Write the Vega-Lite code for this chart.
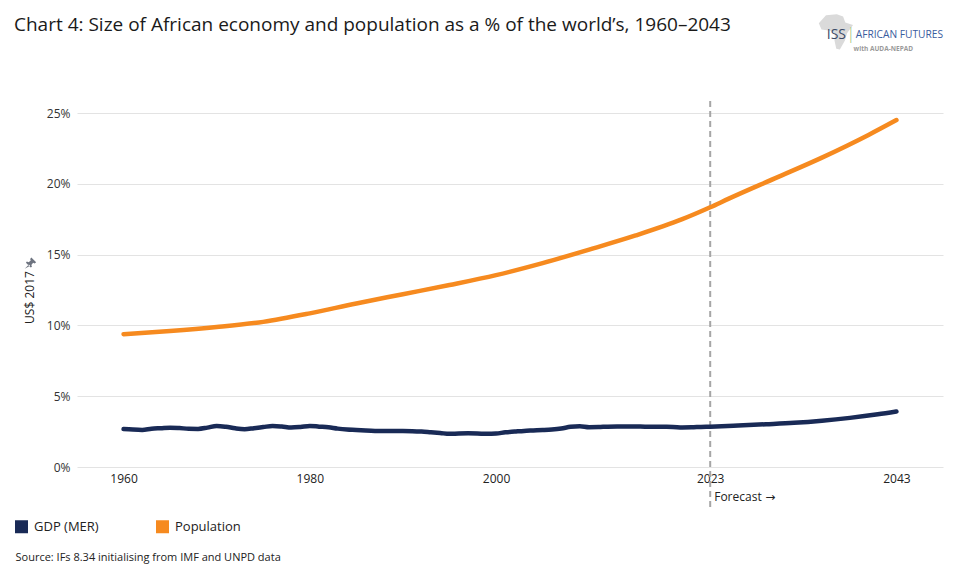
{
  "$schema": "https://vega.github.io/schema/vega-lite/v6.json",
  "width": 866,
  "height": 354,
  "autosize": {"type": "none"},
  "padding": {"left": 77, "top": 113, "right": 12, "bottom": 117},
  "background": "white",
  "config": {
    "view": {"stroke": null},
    "font": "Open Sans",
    "axis": {"labelFont": "Open Sans", "titleFont": "Open Sans"},
    "legend": {"labelFont": "Open Sans"}
  },
  "title": {
    "text": "Chart 4: Size of African economy and population as a % of the world’s, 1960–2043",
    "anchor": "start",
    "frame": "group",
    "font": "Open Sans",
    "fontSize": 19,
    "fontWeight": "normal",
    "color": "#1a1a1a",
    "dx": -63,
    "offset": -21
  },
  "datasets": {
    "series": [
      {"year": 1960, "series": "GDP (MER)", "value": 2.68},
      {"year": 1961, "series": "GDP (MER)", "value": 2.64},
      {"year": 1962, "series": "GDP (MER)", "value": 2.62},
      {"year": 1963, "series": "GDP (MER)", "value": 2.7},
      {"year": 1964, "series": "GDP (MER)", "value": 2.74},
      {"year": 1965, "series": "GDP (MER)", "value": 2.78},
      {"year": 1966, "series": "GDP (MER)", "value": 2.75},
      {"year": 1967, "series": "GDP (MER)", "value": 2.7},
      {"year": 1968, "series": "GDP (MER)", "value": 2.69},
      {"year": 1969, "series": "GDP (MER)", "value": 2.78},
      {"year": 1970, "series": "GDP (MER)", "value": 2.9},
      {"year": 1971, "series": "GDP (MER)", "value": 2.84},
      {"year": 1972, "series": "GDP (MER)", "value": 2.73},
      {"year": 1973, "series": "GDP (MER)", "value": 2.67},
      {"year": 1974, "series": "GDP (MER)", "value": 2.74},
      {"year": 1975, "series": "GDP (MER)", "value": 2.82},
      {"year": 1976, "series": "GDP (MER)", "value": 2.9},
      {"year": 1977, "series": "GDP (MER)", "value": 2.86},
      {"year": 1978, "series": "GDP (MER)", "value": 2.79},
      {"year": 1979, "series": "GDP (MER)", "value": 2.83},
      {"year": 1980, "series": "GDP (MER)", "value": 2.9},
      {"year": 1981, "series": "GDP (MER)", "value": 2.85},
      {"year": 1982, "series": "GDP (MER)", "value": 2.8},
      {"year": 1983, "series": "GDP (MER)", "value": 2.71},
      {"year": 1984, "series": "GDP (MER)", "value": 2.65},
      {"year": 1985, "series": "GDP (MER)", "value": 2.62},
      {"year": 1986, "series": "GDP (MER)", "value": 2.58},
      {"year": 1987, "series": "GDP (MER)", "value": 2.55},
      {"year": 1988, "series": "GDP (MER)", "value": 2.54},
      {"year": 1989, "series": "GDP (MER)", "value": 2.54},
      {"year": 1990, "series": "GDP (MER)", "value": 2.54},
      {"year": 1991, "series": "GDP (MER)", "value": 2.53},
      {"year": 1992, "series": "GDP (MER)", "value": 2.5},
      {"year": 1993, "series": "GDP (MER)", "value": 2.45},
      {"year": 1994, "series": "GDP (MER)", "value": 2.4},
      {"year": 1995, "series": "GDP (MER)", "value": 2.34},
      {"year": 1996, "series": "GDP (MER)", "value": 2.37},
      {"year": 1997, "series": "GDP (MER)", "value": 2.38},
      {"year": 1998, "series": "GDP (MER)", "value": 2.37},
      {"year": 1999, "series": "GDP (MER)", "value": 2.34},
      {"year": 2000, "series": "GDP (MER)", "value": 2.36},
      {"year": 2001, "series": "GDP (MER)", "value": 2.45},
      {"year": 2002, "series": "GDP (MER)", "value": 2.5},
      {"year": 2003, "series": "GDP (MER)", "value": 2.55},
      {"year": 2004, "series": "GDP (MER)", "value": 2.58},
      {"year": 2005, "series": "GDP (MER)", "value": 2.61},
      {"year": 2006, "series": "GDP (MER)", "value": 2.65},
      {"year": 2007, "series": "GDP (MER)", "value": 2.72},
      {"year": 2008, "series": "GDP (MER)", "value": 2.84},
      {"year": 2009, "series": "GDP (MER)", "value": 2.88},
      {"year": 2010, "series": "GDP (MER)", "value": 2.81},
      {"year": 2011, "series": "GDP (MER)", "value": 2.82},
      {"year": 2012, "series": "GDP (MER)", "value": 2.85},
      {"year": 2013, "series": "GDP (MER)", "value": 2.86},
      {"year": 2014, "series": "GDP (MER)", "value": 2.86},
      {"year": 2015, "series": "GDP (MER)", "value": 2.86},
      {"year": 2016, "series": "GDP (MER)", "value": 2.85},
      {"year": 2017, "series": "GDP (MER)", "value": 2.85},
      {"year": 2018, "series": "GDP (MER)", "value": 2.84},
      {"year": 2019, "series": "GDP (MER)", "value": 2.83},
      {"year": 2020, "series": "GDP (MER)", "value": 2.79},
      {"year": 2021, "series": "GDP (MER)", "value": 2.8},
      {"year": 2022, "series": "GDP (MER)", "value": 2.83},
      {"year": 2023, "series": "GDP (MER)", "value": 2.85},
      {"year": 2026, "series": "GDP (MER)", "value": 2.93},
      {"year": 2029, "series": "GDP (MER)", "value": 3.02},
      {"year": 2032, "series": "GDP (MER)", "value": 3.12},
      {"year": 2035, "series": "GDP (MER)", "value": 3.27},
      {"year": 2038, "series": "GDP (MER)", "value": 3.47},
      {"year": 2041, "series": "GDP (MER)", "value": 3.72},
      {"year": 2043, "series": "GDP (MER)", "value": 3.92},
      {"year": 1960, "series": "Population", "value": 9.38},
      {"year": 1965, "series": "Population", "value": 9.6},
      {"year": 1970, "series": "Population", "value": 9.88},
      {"year": 1975, "series": "Population", "value": 10.25},
      {"year": 1980, "series": "Population", "value": 10.85},
      {"year": 1985, "series": "Population", "value": 11.55},
      {"year": 1990, "series": "Population", "value": 12.2},
      {"year": 1995, "series": "Population", "value": 12.85},
      {"year": 2000, "series": "Population", "value": 13.55},
      {"year": 2005, "series": "Population", "value": 14.4},
      {"year": 2010, "series": "Population", "value": 15.35},
      {"year": 2015, "series": "Population", "value": 16.35},
      {"year": 2020, "series": "Population", "value": 17.5},
      {"year": 2023, "series": "Population", "value": 18.34},
      {"year": 2025, "series": "Population", "value": 18.95},
      {"year": 2030, "series": "Population", "value": 20.4},
      {"year": 2035, "series": "Population", "value": 21.85},
      {"year": 2040, "series": "Population", "value": 23.45},
      {"year": 2043, "series": "Population", "value": 24.5}
    ],
    "forecast": [
      {"year": 2023, "lo": -2.82, "hi": 26.13, "label": "Forecast", "arrow": "→"}
    ],
    "logo": [
      {"part": "map", "text": ""},
      {"part": "pin", "text": ""},
      {"part": "ISS", "text": "ISS"},
      {"part": "bar", "text": "|"},
      {"part": "AF", "text": "AFRICAN FUTURES"},
      {"part": "with", "text": "with AUDA-NEPAD"}
    ]
  },
  "layer": [
    {
      "data": {"name": "forecast"},
      "mark": {"type": "rule", "color": "#a6a6a6", "strokeWidth": 2, "strokeDash": [6, 4], "clip": false},
      "encoding": {
        "x": {"field": "year", "type": "quantitative"},
        "y": {"field": "lo", "type": "quantitative", "title": "US$ 2017"},
        "y2": {"field": "hi"}
      }
    },
    {
      "data": {"name": "series"},
      "mark": {"type": "line", "strokeWidth": 4.5, "strokeCap": "round", "interpolate": "monotone"},
      "encoding": {
        "x": {
          "field": "year",
          "type": "quantitative",
          "scale": {"domain": [1955, 2048], "nice": false, "zero": false},
          "axis": {
            "values": [1960, 1980, 2000, 2023, 2043],
            "format": "d",
            "grid": false,
            "domain": false,
            "ticks": false,
            "labelFontSize": 12,
            "labelColor": "#222222",
            "labelPadding": 6,
            "title": "Source: IFs 8.34 initialising from IMF and UNPD data",
            "titleFontSize": 11,
            "titleFontWeight": "normal",
            "titleColor": "#222222",
            "titleAlign": "left",
            "titleAnchor": null,
            "titleBaseline": "alphabetic",
            "titleX": -62,
            "titleY": 93
          }
        },
        "y": {
          "field": "value",
          "type": "quantitative",
          "title": "US$ 2017",
          "scale": {"domain": [0, 25], "nice": false},
          "axis": {
            "values": [0, 5, 10, 15, 20, 25],
            "labelExpr": "datum.value + '%'",
            "grid": true,
            "gridColor": "#e3e3e3",
            "gridWidth": 1,
            "domain": false,
            "ticks": false,
            "labelFontSize": 12,
            "labelColor": "#333333",
            "labelPadding": 7,
            "titleFontSize": 12,
            "titleFontWeight": "normal",
            "titleColor": "#222222",
            "titlePadding": 10,
            "titleY": 184
          }
        },
        "color": {
          "field": "series",
          "type": "nominal",
          "scale": {"domain": ["GDP (MER)", "Population"], "range": ["#192a56", "#f68a1f"]},
          "legend": {
            "title": null,
            "orient": "none",
            "direction": "horizontal",
            "legendX": -62,
            "legendY": 407,
            "symbolType": "square",
            "symbolSize": 169,
            "symbolOpacity": 1,
            "labelFontSize": 13,
            "labelColor": "#222222",
            "labelOffset": 6,
            "columnPadding": 57,
            "encode": {
              "symbols": {
                "update": {
                  "fill": {"scale": "color", "field": "value"},
                  "fillOpacity": {"value": 1},
                  "strokeWidth": {"value": 0}
                }
              }
            }
          }
        }
      }
    },
    {
      "data": {"name": "forecast"},
      "mark": {"type": "text", "align": "left", "baseline": "middle", "dx": 4, "fontSize": 12, "color": "#222222", "clip": false},
      "encoding": {
        "x": {"field": "year", "type": "quantitative"},
        "y": {"datum": -2.12},
        "text": {"field": "label"}
      }
    },
    {
      "data": {"name": "forecast"},
      "mark": {"type": "text", "align": "left", "baseline": "middle", "dx": 55, "fontSize": 12, "font": "DejaVu Sans", "color": "#222222", "clip": false},
      "encoding": {
        "x": {"field": "year", "type": "quantitative"},
        "y": {"datum": -2.12},
        "text": {"field": "arrow"}
      }
    },
    {
      "data": {"name": "logo"},
      "transform": [{"filter": "datum.part === 'pin'"}],
      "mark": {
        "type": "point",
        "filled": true,
        "color": "#6e7480",
        "opacity": 1,
        "size": 144,
        "clip": false,
        "shape": "M 0.15 -0.95 L 0.95 -0.15 L 0.7 0.05 L 0.45 -0.05 L 0.15 0.3 L 0.25 0.6 L 0.05 0.75 L -0.75 -0.05 L -0.6 -0.25 L -0.3 -0.15 L 0.05 -0.45 L -0.05 -0.7 Z M -0.25 0.25 L -0.95 0.95 L -0.05 0.45 Z"
      },
      "encoding": {
        "x": {"datum": 1950},
        "y": {"datum": 14.4}
      }
    },
    {
      "data": {"name": "logo"},
      "transform": [{"filter": "datum.part === 'map'"}],
      "mark": {
        "type": "point",
        "filled": true,
        "color": "#dadada",
        "opacity": 1,
        "size": 1296,
        "shape": "M -0.55 -0.95 L 0.05 -1 L 0.4 -0.88 L 0.52 -0.55 L 0.95 -0.4 L 0.62 0.05 L 0.5 0.45 L 0.22 0.95 L 0.02 0.92 L -0.08 0.45 L -0.05 0.05 L -0.3 -0.08 L -0.8 -0.15 L -0.95 -0.5 Z"
      },
      "encoding": {
        "x": {"datum": 2036.5},
        "y": {"datum": 30.7}
      }
    },
    {
      "data": {"name": "logo"},
      "transform": [{"filter": "datum.part === 'ISS'"}],
      "mark": {"type": "text", "align": "right", "baseline": "middle", "fontSize": 14, "color": "#3b4a68", "dx": -2},
      "encoding": {
        "x": {"datum": 2037.8},
        "y": {"datum": 30.5},
        "text": {"field": "text"}
      }
    },
    {
      "data": {"name": "logo"},
      "transform": [{"filter": "datum.part === 'bar'"}],
      "mark": {"type": "text", "align": "center", "baseline": "middle", "fontSize": 17, "fontWeight": 300, "color": "#9cc47c"},
      "encoding": {
        "x": {"datum": 2038.1},
        "y": {"datum": 30.6},
        "text": {"field": "text"}
      }
    },
    {
      "data": {"name": "logo"},
      "transform": [{"filter": "datum.part === 'AF'"}],
      "mark": {"type": "text", "align": "right", "baseline": "middle", "fontSize": 10.2, "color": "#3a5c9e"},
      "encoding": {
        "x": {"datum": 2048},
        "y": {"datum": 30.5},
        "text": {"field": "text"}
      }
    },
    {
      "data": {"name": "logo"},
      "transform": [{"filter": "datum.part === 'with'"}],
      "mark": {"type": "text", "align": "left", "baseline": "middle", "fontSize": 6.5, "fontWeight": "bold", "color": "#9a9a9a"},
      "encoding": {
        "x": {"datum": 2038.4},
        "y": {"datum": 29.5},
        "text": {"field": "text"}
      }
    }
  ]
}
